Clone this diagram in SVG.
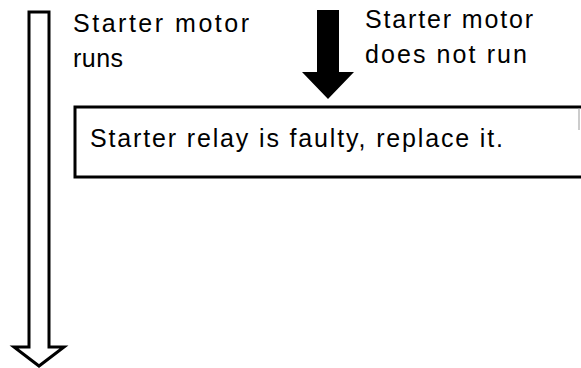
<svg xmlns="http://www.w3.org/2000/svg" width="581" height="368" viewBox="0 0 581 368">
<style>
.t{font-family:"Liberation Sans",Arial,Helvetica,sans-serif;font-size:25px;fill:#000}
.box{fill:#fff;stroke:#000;stroke-width:3}
.hollow{fill:#fff;stroke:#000;stroke-width:3;stroke-linejoin:miter}
.solid{fill:#000;stroke:none}
</style>
<rect width="581" height="368" fill="#fff"/>
<g id="connectors">
<path class="hollow" d="M29 12 L49 12 L49 347 L64 347 L39 366 L14 347 L29 347 Z"/>
<path class="solid" d="M317 10 L339 10 L339 72 L354 72 L328 99 L302 72 L317 72 Z"/>
</g>
<g id="label-runs">
<text class="t" x="73" y="32" textLength="176" lengthAdjust="spacing">Starter motor</text>
<text class="t" x="73" y="67" textLength="50" lengthAdjust="spacing">runs</text>
</g>
<g id="label-not-run">
<text class="t" x="365" y="28" textLength="168" lengthAdjust="spacing">Starter motor</text>
<text class="t" x="365" y="63" textLength="162" lengthAdjust="spacing">does not run</text>
</g>
<g id="node-relay">
<rect class="box" x="75" y="107" width="512" height="70"/>
<line x1="579" y1="108" x2="579" y2="130" stroke="#999" stroke-width="1"/>
<text class="t" x="90" y="147" textLength="413" lengthAdjust="spacing">Starter relay is faulty, replace it.</text>
</g>
</svg>
